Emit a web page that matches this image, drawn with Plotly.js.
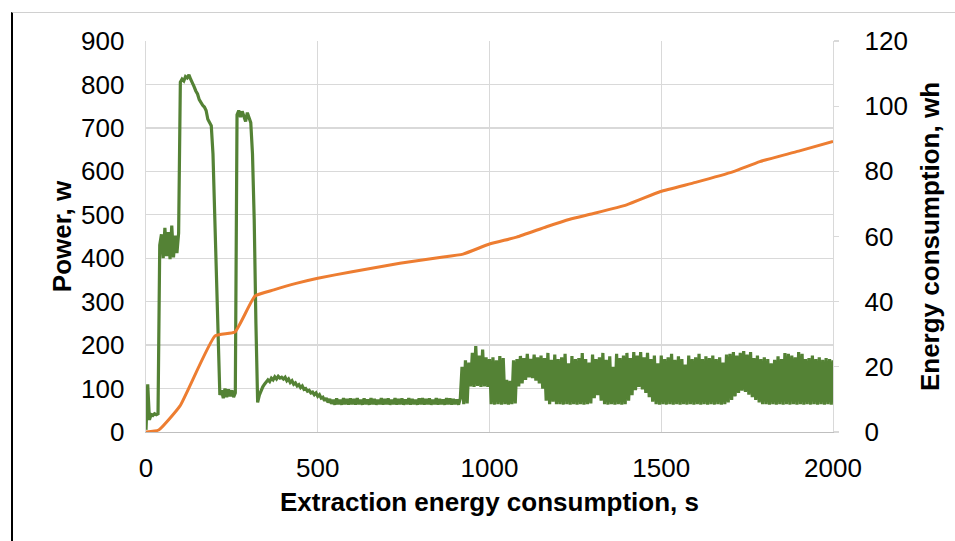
<!DOCTYPE html>
<html>
<head>
<meta charset="utf-8">
<script src="https://cdn.plot.ly/plotly-3.0.1.min.js"></script>
<style>
  html, body { margin: 0; padding: 0; background: #ffffff; }
  #wrap { position: relative; width: 955px; height: 541px; overflow: hidden; }
  #chart { position: absolute; left: 0; top: 0; width: 955px; height: 541px; }
  #frame { position: absolute; left: 11px; top: 12px; width: 960px; height: 540px;
           border-left: 2px solid #000; border-top: 1px solid #d0d0d0; pointer-events: none; }
</style>
</head>
<body>
<div id="wrap">
  <div id="chart"></div>
  <div id="frame"></div>
</div>
<script>
// ---- data ----
// Power (w), sampled every 5 s starting at 0 s
const powerStart = 0;
const powerStep = 5;
const powerW = [
  5,110,28,40,38,42,40,42,430,455,
  400,470,405,460,398,475,402,452,412,458,
  805,812,808,818,815,822,812,805,795,785,
  778,765,758,752,748,740,720,712,705,640,
  515,380,240,85,96,78,100,80,98,82,
  96,80,90,730,740,725,738,728,715,735,
  725,712,640,490,250,68,85,95,104,110,
  114,120,116,124,120,127,122,128,124,126,
  122,126,118,122,114,118,110,113,106,109,
  102,106,98,100,94,96,90,92,86,90,
  82,86,78,80,72,78,68,76,65,74,
  63,77,64,74,63,78,64,76,63,77,
  64,76,63,78,64,74,63,77,64,75,
  63,78,64,76,63,74,64,78,63,76,
  64,77,63,74,64,78,63,76,64,77,
  63,75,64,78,63,76,64,74,63,77,
  64,78,63,76,64,77,63,74,64,78,
  63,76,64,75,63,78,64,77,63,76,
  64,75,63,77,150,64,165,66,160,105,
  182,104,198,106,176,104,190,105,172,104,
  168,64,172,63,165,64,175,63,170,64,
  120,63,118,64,165,66,168,105,175,112,
  170,120,180,126,168,124,178,118,172,112,
  176,100,170,72,182,64,166,70,178,64,
  168,64,172,63,180,64,158,63,175,64,
  168,63,170,64,182,63,168,64,160,66,
  178,78,168,85,172,72,182,64,166,63,
  174,64,150,63,180,64,170,63,176,64,
  182,72,170,85,184,96,176,104,184,98,
  172,90,182,80,168,70,176,64,158,63,
  176,64,168,63,172,64,180,63,166,64,
  174,63,168,64,155,63,176,64,168,63,
  172,64,180,63,168,64,174,63,170,64,
  176,63,168,64,172,63,160,64,178,68,
  180,74,184,82,176,90,182,95,186,92,
  178,86,184,80,170,74,176,68,168,64,
  172,64,168,63,158,64,166,63,174,64,
  168,63,182,64,180,63,176,64,172,63,
  184,64,180,63,168,64,170,63,176,64,
  168,63,172,64,166,63,170,64,168,63,
  165
];

// Cumulative energy consumption (wh)
const energyTime = [0, 37, 99, 201, 259, 317, 372, 437, 500, 600, 739, 850, 923, 1000, 1079, 1166, 1234, 1300, 1399, 1498, 1600, 1710, 1787, 1900, 2000];
const energyWh   = [0, 0.6, 8.0, 29.5, 30.7, 41.7, 43.6, 45.6, 47.2, 49.2, 51.8, 53.5, 54.6, 57.7, 59.8, 63.0, 65.3, 67.0, 69.7, 73.8, 76.6, 79.9, 83.0, 86.2, 89.2];

const xTicks  = [0, 500, 1000, 1500, 2000];
const yTicks  = [0, 100, 200, 300, 400, 500, 600, 700, 800, 900];
const y2Ticks = [0, 20, 40, 60, 80, 100, 120];

const xTitle  = 'Extraction energy consumption, s';
const yTitle  = 'Power, w';
const y2Title = 'Energy consumption, wh';

// ---- chart ----
const FONT = 'Liberation Sans, Arial, sans-serif';
const grid = '#d9d9d9';

const traces = [
  {
    type: 'scatter', mode: 'lines',
    x0: powerStart, dx: powerStep, y: powerW,
    line: { color: '#548235', width: 3.2 },
    yaxis: 'y', hoverinfo: 'skip', showlegend: false
  },
  {
    type: 'scatter', mode: 'lines',
    x: energyTime, y: energyWh,
    line: { color: '#ed7d31', width: 3, shape: 'spline', smoothing: 0.4 },
    yaxis: 'y2', hoverinfo: 'skip', showlegend: false
  }
];

const layout = {
  width: 955, height: 541,
  margin: { l: 146, r: 122, t: 41, b: 109, pad: 0 },
  paper_bgcolor: '#ffffff', plot_bgcolor: '#ffffff',
  font: { family: FONT, size: 26, color: '#000' },
  showlegend: false,
  xaxis: {
    range: [0, 2000], tickvals: xTicks, ticktext: xTicks.map(String),
    showgrid: true, gridcolor: grid, gridwidth: 1.3,
    showline: true, linecolor: '#bfbfbf', linewidth: 1.3,
    zeroline: false, ticks: '', ticklabelstandoff: 12,
    tickfont: { family: FONT, size: 26, color: '#000' },
    title: { text: xTitle, font: { family: FONT, size: 26, color: '#000', weight: 'bold' }, standoff: 11 },
    automargin: false, fixedrange: true
  },
  yaxis: {
    range: [0, 900], tickvals: yTicks, ticktext: yTicks.map(String),
    showgrid: true, gridcolor: grid, gridwidth: 1.3,
    showline: true, linecolor: grid, linewidth: 1.3,
    zeroline: false, ticks: '', ticklabelstandoff: 15,
    tickfont: { family: FONT, size: 26, color: '#000' },
    title: { text: yTitle, font: { family: FONT, size: 26, color: '#000', weight: 'bold' }, standoff: 2 },
    automargin: false, fixedrange: true
  },
  yaxis2: {
    range: [0, 120], tickvals: y2Ticks, ticktext: y2Ticks.map(String),
    overlaying: 'y', side: 'right',
    showgrid: false, showline: true, linecolor: grid, linewidth: 1.3,
    zeroline: false, ticks: 'outside', ticklen: 5, tickcolor: grid, tickwidth: 1.3,
    ticklabelstandoff: 20,
    tickfont: { family: FONT, size: 26, color: '#000' },
    title: { text: y2Title, font: { family: FONT, size: 26, color: '#000', weight: 'bold' }, standoff: 14 },
    automargin: false, fixedrange: true
  }
};

Plotly.newPlot('chart', traces, layout, { staticPlot: true, displayModeBar: false });
</script>
</body>
</html>
